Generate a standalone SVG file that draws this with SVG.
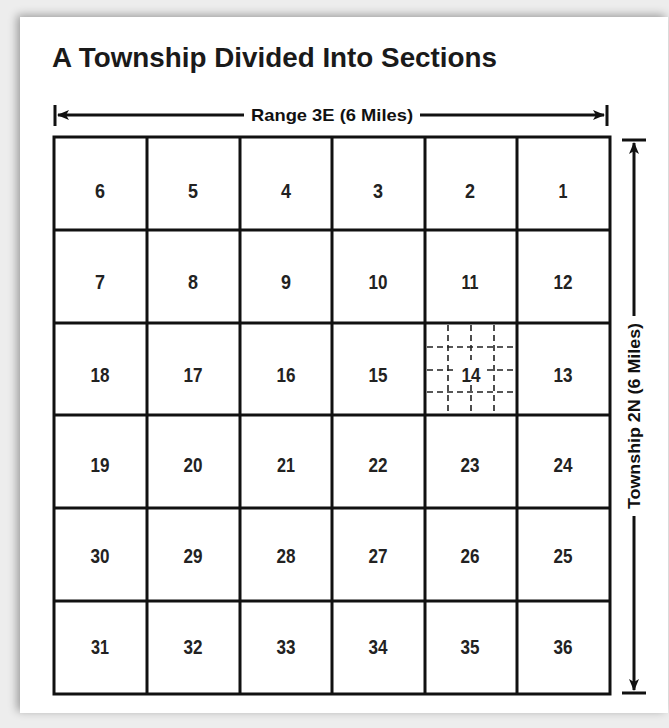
<svg xmlns="http://www.w3.org/2000/svg" width="669" height="728" viewBox="0 0 669 728">
<defs>
<filter id="sh" x="-10%" y="-10%" width="120%" height="120%">
<feGaussianBlur in="SourceAlpha" stdDeviation="5"/>
<feOffset dx="-3" dy="-2" result="b"/>
<feComponentTransfer><feFuncA type="linear" slope="0.35"/></feComponentTransfer>
<feMerge><feMergeNode/><feMergeNode in="SourceGraphic"/></feMerge>
</filter>
<marker id="ah" viewBox="0 0 12 10" refX="11" refY="5" markerWidth="12" markerHeight="10" markerUnits="userSpaceOnUse" orient="auto">
<path d="M0,0 L12,5 L0,10 L3,5 Z" fill="#111"/>
</marker>
</defs>
<style>
.g{stroke:#111;stroke-width:3;fill:none}
.d{stroke:#222;stroke-width:1.6;stroke-dasharray:6,4;fill:none}
.n{font-family:"Liberation Sans Narrow","Liberation Sans",Arial,sans-serif;font-weight:bold;font-size:20px;fill:#222;text-anchor:middle}
.s{}
.l{font-family:"Liberation Sans Narrow","Liberation Sans",Arial,sans-serif;font-weight:bold;font-size:17px;fill:#111;text-anchor:middle}
.a{stroke:#111;stroke-width:3;fill:none}
</style>
<rect width="669" height="728" fill="#ededed"/>
<rect x="20" y="17" width="648" height="696" fill="#fff" filter="url(#sh)"/>
<text x="52" y="67" font-family="Liberation Sans Narrow,Liberation Sans,Arial,sans-serif" font-weight="bold" font-size="28" fill="#1a1a1a" textLength="445" lengthAdjust="spacingAndGlyphs">A Township Divided Into Sections</text>

<g id="connectors">
<line class="a" x1="55" y1="105" x2="55" y2="126"/>
<line class="a" x1="607" y1="105" x2="607" y2="126"/>
<line class="a" x1="244" y1="115" x2="58" y2="115" marker-end="url(#ah)"/>
<line class="a" x1="420" y1="115" x2="604" y2="115" marker-end="url(#ah)"/>
<line class="a" x1="622" y1="140" x2="646" y2="140"/>
<line class="a" x1="622" y1="693" x2="646" y2="693"/>
<line class="a" x1="634" y1="316" x2="634" y2="143" marker-end="url(#ah)"/>
<line class="a" x1="634" y1="516" x2="634" y2="690" marker-end="url(#ah)"/>
</g>
<text class="l" x="332" y="121" textLength="162" lengthAdjust="spacingAndGlyphs">Range 3E (6 Miles)</text>
<text class="l" transform="translate(640,416) rotate(-90)" textLength="186" lengthAdjust="spacingAndGlyphs">Township 2N (6 Miles)</text>

<g id="grid">
<rect class="g" x="54" y="137" width="556" height="557"/>
<path class="g" d="M147,137V694M240,137V694M332,137V694M425,137V694M517,137V694M54,230H610M54,323H610M54,415H610M54,508H610M54,601H610"/>
</g>
<g id="sec14-grid">
<path class="d" d="M448,325V413M494,325V413M427,347H515M427,392H515M471,325V413M427,370H515"/>
<rect x="457" y="360" width="28" height="20" fill="#fff"/>
</g>

<g id="s6"><text class="n" x="100" y="198" textLength="10" lengthAdjust="spacingAndGlyphs">6</text></g>
<g id="s5"><text class="n" x="193" y="198" textLength="10" lengthAdjust="spacingAndGlyphs">5</text></g>
<g id="s4"><text class="n" x="286" y="198" textLength="10" lengthAdjust="spacingAndGlyphs">4</text></g>
<g id="s3"><text class="n" x="378" y="198" textLength="10" lengthAdjust="spacingAndGlyphs">3</text></g>
<g id="s2"><text class="n" x="470" y="198" textLength="10" lengthAdjust="spacingAndGlyphs">2</text></g>
<g id="s1"><text class="n" x="563" y="198" textLength="9" lengthAdjust="spacingAndGlyphs">1</text></g>
<g id="s7"><text class="n" x="100" y="289" textLength="10" lengthAdjust="spacingAndGlyphs">7</text></g>
<g id="s8"><text class="n" x="193" y="289" textLength="10" lengthAdjust="spacingAndGlyphs">8</text></g>
<g id="s9"><text class="n" x="286" y="289" textLength="10" lengthAdjust="spacingAndGlyphs">9</text></g>
<g id="s10"><text class="n" x="378" y="289" textLength="19" lengthAdjust="spacingAndGlyphs">10</text></g>
<g id="s11"><text class="n" x="470" y="289" textLength="17" lengthAdjust="spacingAndGlyphs">11</text></g>
<g id="s12"><text class="n" x="563" y="289" textLength="19" lengthAdjust="spacingAndGlyphs">12</text></g>
<g id="s18"><text class="n" x="100" y="382" textLength="19" lengthAdjust="spacingAndGlyphs">18</text></g>
<g id="s17"><text class="n" x="193" y="382" textLength="19" lengthAdjust="spacingAndGlyphs">17</text></g>
<g id="s16"><text class="n" x="286" y="382" textLength="19" lengthAdjust="spacingAndGlyphs">16</text></g>
<g id="s15"><text class="n" x="378" y="382" textLength="19" lengthAdjust="spacingAndGlyphs">15</text></g>
<g id="s14"><text class="n" x="471" y="382" textLength="19" lengthAdjust="spacingAndGlyphs">14</text></g>
<g id="s13"><text class="n" x="563" y="382" textLength="19" lengthAdjust="spacingAndGlyphs">13</text></g>
<g id="s19"><text class="n" x="100" y="472" textLength="19" lengthAdjust="spacingAndGlyphs">19</text></g>
<g id="s20"><text class="n" x="193" y="472" textLength="19" lengthAdjust="spacingAndGlyphs">20</text></g>
<g id="s21"><text class="n" x="286" y="472" textLength="18" lengthAdjust="spacingAndGlyphs">21</text></g>
<g id="s22"><text class="n" x="378" y="472" textLength="19" lengthAdjust="spacingAndGlyphs">22</text></g>
<g id="s23"><text class="n" x="470" y="472" textLength="19" lengthAdjust="spacingAndGlyphs">23</text></g>
<g id="s24"><text class="n" x="563" y="472" textLength="19" lengthAdjust="spacingAndGlyphs">24</text></g>
<g id="s30"><text class="n" x="100" y="563" textLength="19" lengthAdjust="spacingAndGlyphs">30</text></g>
<g id="s29"><text class="n" x="193" y="563" textLength="19" lengthAdjust="spacingAndGlyphs">29</text></g>
<g id="s28"><text class="n" x="286" y="563" textLength="19" lengthAdjust="spacingAndGlyphs">28</text></g>
<g id="s27"><text class="n" x="378" y="563" textLength="19" lengthAdjust="spacingAndGlyphs">27</text></g>
<g id="s26"><text class="n" x="470" y="563" textLength="19" lengthAdjust="spacingAndGlyphs">26</text></g>
<g id="s25"><text class="n" x="563" y="563" textLength="19" lengthAdjust="spacingAndGlyphs">25</text></g>
<g id="s31"><text class="n" x="100" y="654" textLength="18" lengthAdjust="spacingAndGlyphs">31</text></g>
<g id="s32"><text class="n" x="193" y="654" textLength="19" lengthAdjust="spacingAndGlyphs">32</text></g>
<g id="s33"><text class="n" x="286" y="654" textLength="19" lengthAdjust="spacingAndGlyphs">33</text></g>
<g id="s34"><text class="n" x="378" y="654" textLength="19" lengthAdjust="spacingAndGlyphs">34</text></g>
<g id="s35"><text class="n" x="470" y="654" textLength="19" lengthAdjust="spacingAndGlyphs">35</text></g>
<g id="s36"><text class="n" x="563" y="654" textLength="19" lengthAdjust="spacingAndGlyphs">36</text></g>
</svg>
